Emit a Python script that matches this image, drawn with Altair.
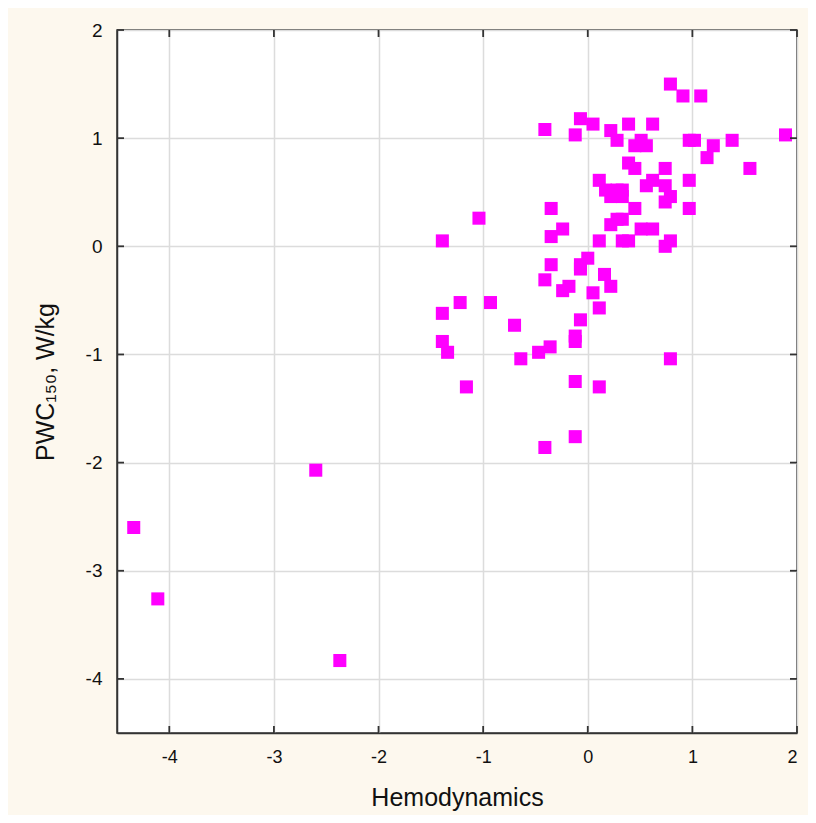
import altair as alt
import pandas as pd

# Data
hemodynamics = [
    -4.34, -4.11, -2.60, -2.37,
    -1.39, -1.39, -1.39, -1.34, -1.22, -1.16, -1.04, -0.93, -0.70, -0.64,
    -0.47, -0.41, -0.41, -0.41, -0.36, -0.35, -0.35, -0.35, -0.24, -0.24,
    -0.18, -0.12, -0.12, -0.12, -0.12, -0.12, -0.07, -0.07, -0.07, -0.07,
    0.00, 0.05, 0.05, 0.11, 0.11, 0.11, 0.11, 0.16, 0.17, 0.22, 0.22,
    0.22, 0.22, 0.28, 0.28, 0.28, 0.33, 0.33, 0.33, 0.33, 0.39, 0.39,
    0.39, 0.45, 0.45, 0.45, 0.51, 0.51, 0.56, 0.56, 0.62, 0.62, 0.62,
    0.74, 0.74, 0.74, 0.74, 0.79, 0.79, 0.79, 0.79, 0.91, 0.97, 0.97,
    0.97, 1.02, 1.08, 1.14, 1.20, 1.38, 1.55, 1.89,
]
pwc150 = [
    -2.60, -3.26, -2.07, -3.83,
    0.05, -0.62, -0.88, -0.98, -0.52, -1.30, 0.26, -0.52, -0.73, -1.04,
    -0.98, 1.08, -0.31, -1.86, -0.93, 0.35, 0.09, -0.17, 0.16, -0.41,
    -0.37, 1.03, -0.83, -0.88, -1.25, -1.76, 1.18, -0.17, -0.21, -0.68,
    -0.11, -0.43, 1.13, 0.61, 0.05, -0.57, -1.30, -0.26, 0.52, 1.07, 0.46,
    0.20, -0.37, 0.98, 0.52, 0.25, 0.52, 0.46, 0.25, 0.05, 1.13, 0.77,
    0.05, 0.93, 0.72, 0.35, 0.98, 0.16, 0.93, 0.56, 1.13, 0.61, 0.16,
    0.72, 0.56, 0.41, 0.00, 1.50, 0.46, 0.05, -1.04, 1.39, 0.98, 0.61,
    0.35, 0.98, 1.39, 0.82, 0.93, 0.98, 0.72, 1.03,
]
tick_values = [-4, -3, -2, -1, 0, 1, 2]

df = pd.DataFrame({"Hemodynamics": hemodynamics, "PWC": pwc150})
ticks = pd.DataFrame({"Hemodynamics": tick_values, "PWC": tick_values})

xscale = alt.Scale(domain=[-4.5, 2], nice=False, zero=False)
yscale = alt.Scale(domain=[-4.5, 2], nice=False, zero=False)

FONT = "Liberation Sans"
DARK = "#333333"

x_axis = alt.Axis(
    values=tick_values, title="Hemodynamics", labelExpr="'' + datum.value",
    labelPadding=15, labelFontSize=18, titlePadding=19, titleFontSize=25,
)
y_axis = alt.Axis(
    values=tick_values, title="PWC₁₅₀, W/kg", labelExpr="'' + datum.value",
    labelPadding=15, labelFontSize=19, titlePadding=27, titleFontSize=25,
)

points = alt.Chart(df).mark_square(size=170, color="#ff00ff", opacity=1).encode(
    x=alt.X("Hemodynamics:Q", scale=xscale, axis=x_axis),
    y=alt.Y("PWC:Q", scale=yscale, axis=y_axis),
)

tick_style = dict(color=DARK, strokeWidth=1.8)
left_ticks = alt.Chart(ticks).mark_rule(**tick_style).encode(
    y=alt.Y("PWC:Q", scale=yscale, axis=y_axis), x=alt.value(0), x2=alt.value(7)
)
right_ticks = alt.Chart(ticks).mark_rule(**tick_style).encode(
    y=alt.Y("PWC:Q", scale=yscale, axis=y_axis), x=alt.value(673), x2=alt.value(680)
)
bottom_ticks = alt.Chart(ticks).mark_rule(**tick_style).encode(
    x=alt.X("Hemodynamics:Q", scale=xscale, axis=x_axis), y=alt.value(696), y2=alt.value(703)
)
top_ticks = alt.Chart(ticks).mark_rule(**tick_style).encode(
    x=alt.X("Hemodynamics:Q", scale=xscale, axis=x_axis), y=alt.value(0), y2=alt.value(7)
)

chart = (
    alt.layer(points, left_ticks, right_ticks, bottom_ticks, top_ticks)
    .properties(
        width=680,
        height=703,
        padding={"left": 109, "top": 22, "right": 11, "bottom": 82},
        autosize=alt.AutoSizeParams(type="none"),
        background="#fdf8ee",
    )
    .configure_view(stroke=DARK, strokeWidth=1.5, fill="white")
    .configure_axis(
        grid=True,
        gridColor="#dcdcdc",
        gridWidth=1.5,
        domainColor=DARK,
        domainWidth=1.5,
        ticks=False,
        labelFont=FONT,
        labelColor="#111111",
        titleFont=FONT,
        titleFontWeight="normal",
        titleColor="#111111",
    )
)

chart.save("out.html", embed_options={"renderer": "svg", "actions": False})
